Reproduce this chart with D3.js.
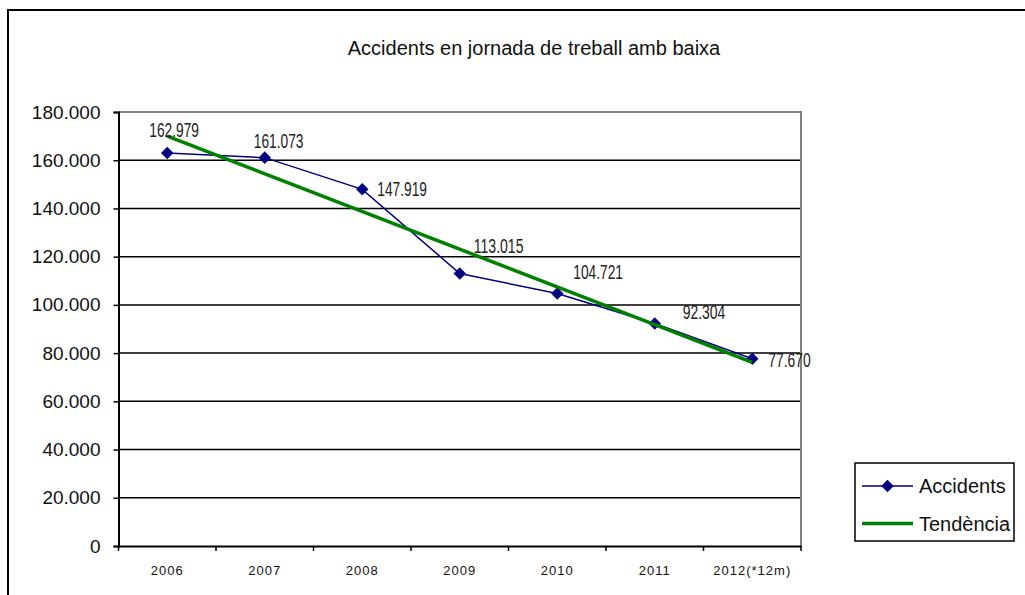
<!DOCTYPE html>
<html>
<head>
<meta charset="utf-8">
<script src="https://cdn.jsdelivr.net/npm/d3@7"></script>
<style>
  body { margin: 0; background: #fff; }
  text { font-family: "Liberation Sans", Arial, sans-serif; }
</style>
</head>
<body>
<svg id="chart" width="1025" height="595"></svg>
<script>
// data
const years = ["2006", "2007", "2008", "2009", "2010", "2011", "2012(*12m)"];
const accidents = [162979, 161073, 147919, 113015, 104721, 92304, 77670];
const labels = ["162.979", "161.073", "147.919", "113.015", "104.721", "92.304", "77.670"];
// trend line read at first and last year
const trendYears = ["2006", "2012(*12m)"];
const trend = [170000, 76200];
const yTicks = [0, 20000, 40000, 60000, 80000, 100000, 120000, 140000, 160000, 180000];

// label placement relative to each point (dx to left edge, dy to baseline)
const labelOffset = [[-18, -16], [-11, -10], [15, 7], [14, -21], [16, -15], [28, -4], [16, 8]];

const svg = d3.select("#chart");
const plotL = 118.5, plotR = 801, plotT = 112, plotB = 546;

const x = d3.scaleBand().domain(years).range([plotL, plotR]);
const y = d3.scaleLinear().domain([0, 180000]).range([plotB, plotT]);
const fmt = d => d3.format(",")(d).replace(/,/g, ".");

// outer frame (cut by the picture on right and bottom)
svg.append("rect")
  .attr("x", 8).attr("y", 10)
  .attr("width", 1100).attr("height", 700)
  .attr("fill", "none").attr("stroke", "#000").attr("stroke-width", 2);

// title
svg.append("text")
  .attr("x", 534).attr("y", 55)
  .attr("text-anchor", "middle")
  .attr("font-size", 20)
  .attr("fill", "#111")
  .text("Accidents en jornada de treball amb baixa");

// gridlines
svg.append("g")
  .selectAll("line")
  .data(yTicks.filter(d => d > 0 && d < 180000))
  .join("line")
  .attr("x1", plotL).attr("x2", plotR)
  .attr("y1", d => y(d)).attr("y2", d => y(d))
  .attr("stroke", "#000").attr("stroke-width", 1.5);

// plot border top/right (gray)
svg.append("path")
  .attr("d", `M${plotL},${plotT}H${plotR}V${plotB}`)
  .attr("fill", "none").attr("stroke", "#808080").attr("stroke-width", 2);

// y axis
const yAxis = svg.append("g")
  .attr("transform", `translate(${plotL},0)`)
  .call(d3.axisLeft(y).tickValues(yTicks).tickFormat(fmt).tickSize(5).tickPadding(13));
yAxis.select(".domain").attr("stroke", "#000").attr("stroke-width", 2);
yAxis.selectAll(".tick line").attr("stroke", "#000").attr("stroke-width", 1.5);
yAxis.selectAll(".tick text")
  .attr("font-size", 19)
  .attr("font-family", "Liberation Sans, Arial, sans-serif")
  .attr("fill", "#111");

// x axis
const xAxis = svg.append("g")
  .attr("transform", `translate(0,${plotB})`)
  .call(d3.axisBottom(x).tickSize(0).tickPadding(20));
xAxis.select(".domain").attr("stroke", "#000").attr("stroke-width", 2);
xAxis.selectAll(".tick text")
  .attr("font-size", 13)
  .attr("letter-spacing", "1px")
  .attr("font-family", "Liberation Sans, Arial, sans-serif")
  .attr("fill", "#111");
// category boundary ticks
svg.append("g")
  .selectAll("line")
  .data(d3.range(years.length + 1))
  .join("line")
  .attr("x1", i => plotL + i * x.step()).attr("x2", i => plotL + i * x.step())
  .attr("y1", plotB).attr("y2", plotB + 5)
  .attr("stroke", "#000").attr("stroke-width", 1.5);

const cx = d => x(d) + x.bandwidth() / 2;

// series line
const line = d3.line().x(d => cx(d.year)).y(d => y(d.value));
const pts = years.map((yr, i) => ({ year: yr, value: accidents[i], label: labels[i], off: labelOffset[i] }));

svg.append("path")
  .datum(pts)
  .attr("d", line)
  .attr("fill", "none")
  .attr("stroke", "#000080")
  .attr("stroke-width", 1.5);

const diamond = d3.symbol().type(d3.symbolDiamond2).size(100);
svg.append("g")
  .selectAll("path")
  .data(pts)
  .join("path")
  .attr("d", diamond)
  .attr("transform", d => `translate(${cx(d.year)},${y(d.value)})`)
  .attr("fill", "#000080");

// trend line
svg.append("path")
  .datum(trendYears.map((yr, i) => ({ year: yr, value: trend[i] })))
  .attr("d", line)
  .attr("fill", "none")
  .attr("stroke", "#008000")
  .attr("stroke-width", 3.5);

// data labels (narrow font)
svg.append("g")
  .selectAll("text")
  .data(pts)
  .join("text")
  .attr("x", d => cx(d.year) + d.off[0])
  .attr("y", d => y(d.value) + d.off[1])
  .attr("font-size", 20.5)
  .attr("font-family", "Liberation Sans Narrow, DejaVu Sans Condensed, sans-serif")
  .attr("textLength", d => d.label.length * 7.1)
  .attr("lengthAdjust", "spacingAndGlyphs")
  .attr("fill", "#222")
  .text(d => d.label);

// legend
const lg = svg.append("g");
lg.append("rect")
  .attr("x", 855).attr("y", 463)
  .attr("width", 159).attr("height", 78)
  .attr("fill", "#fff").attr("stroke", "#000").attr("stroke-width", 1.5);
const legendItems = [
  { name: "Accidents", color: "#000080", width: 1.5, marker: true },
  { name: "Tendència", color: "#008000", width: 3.5, marker: false }
];
const row = lg.selectAll("g")
  .data(legendItems)
  .join("g")
  .attr("transform", (d, i) => `translate(0,${486 + i * 37.5})`);
row.append("line")
  .attr("x1", 862).attr("x2", 913)
  .attr("stroke", d => d.color).attr("stroke-width", d => d.width);
row.filter(d => d.marker)
  .append("path")
  .attr("d", diamond)
  .attr("transform", "translate(887.5,0)")
  .attr("fill", "#000080");
row.append("text")
  .attr("x", 919).attr("y", 0)
  .attr("dy", "0.35em")
  .attr("font-size", 20)
  .attr("fill", "#111")
  .text(d => d.name);
</script>
</body>
</html>
